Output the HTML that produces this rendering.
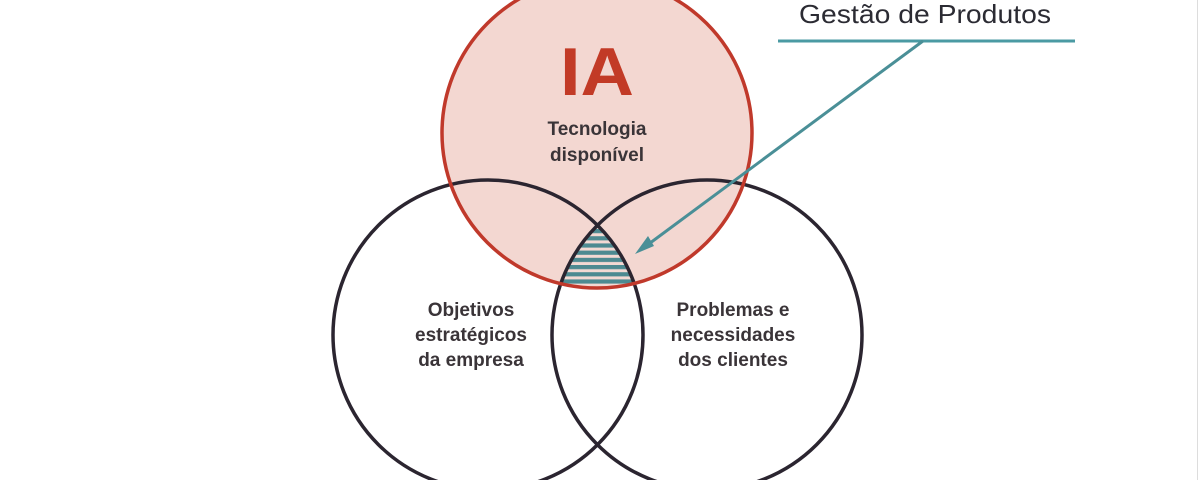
<!DOCTYPE html>
<html><head><meta charset="utf-8"><style>
html,body{margin:0;padding:0;background:#fff;}
svg{display:block;}
text{font-family:"Liberation Sans",sans-serif;}
</style></head><body>
<svg width="1200" height="480" viewBox="0 0 1200 480" xmlns="http://www.w3.org/2000/svg">
<defs>
<clipPath id="cl"><circle cx="488" cy="335" r="155"/></clipPath>
<clipPath id="cr"><circle cx="707" cy="335" r="155"/></clipPath>
<clipPath id="ct"><circle cx="597" cy="133" r="155"/></clipPath>
<pattern id="hp" x="0" y="229" width="10" height="7.2" patternUnits="userSpaceOnUse">
<rect width="10" height="7.2" fill="#f3d9d3"/><rect y="0" width="10" height="4.2" fill="#4d8a91"/></pattern>
</defs>
<rect width="1200" height="480" fill="#fff"/>
<line x1="1197.5" y1="0" x2="1197.5" y2="480" stroke="#ddd" stroke-width="1"/>
<circle cx="597" cy="133" r="155" fill="#f3d7d1"/>
<g clip-path="url(#ct)"><g clip-path="url(#cl)"><g clip-path="url(#cr)">
<rect x="540" y="228" width="120" height="70" fill="url(#hp)"/></g></g></g>
<circle cx="488" cy="335" r="155" fill="none" stroke="#2b2530" stroke-width="3.5"/>
<circle cx="707" cy="335" r="155" fill="none" stroke="#2b2530" stroke-width="3.5"/>
<circle cx="597" cy="133" r="155" fill="none" stroke="#c0392b" stroke-width="3.5"/>
<text x="597" y="95" text-anchor="middle" font-size="68" font-weight="bold" fill="#c23a26" textLength="74" lengthAdjust="spacingAndGlyphs">IA</text>
<g font-size="19" font-weight="bold" fill="#3a3438" text-anchor="middle">
<text x="597" y="135">Tecnologia</text><text x="597" y="161">disponível</text>
<text x="471" y="316">Objetivos</text><text x="471" y="341">estratégicos</text><text x="471" y="366">da empresa</text>
<text x="733" y="316">Problemas e</text><text x="733" y="341">necessidades</text><text x="733" y="366">dos clientes</text>
</g>
<text x="799" y="23" font-size="26" fill="#2b2b33" textLength="252" lengthAdjust="spacingAndGlyphs">Gestão de Produtos</text>
<line x1="778" y1="41" x2="1075" y2="41" stroke="#4a9aa3" stroke-width="3"/>
<line x1="923" y1="41" x2="642" y2="249" stroke="#4a8f97" stroke-width="3"/>
<polygon points="635,254 648,236 654,246" fill="#4a8f97"/>
</svg>
</body></html>
